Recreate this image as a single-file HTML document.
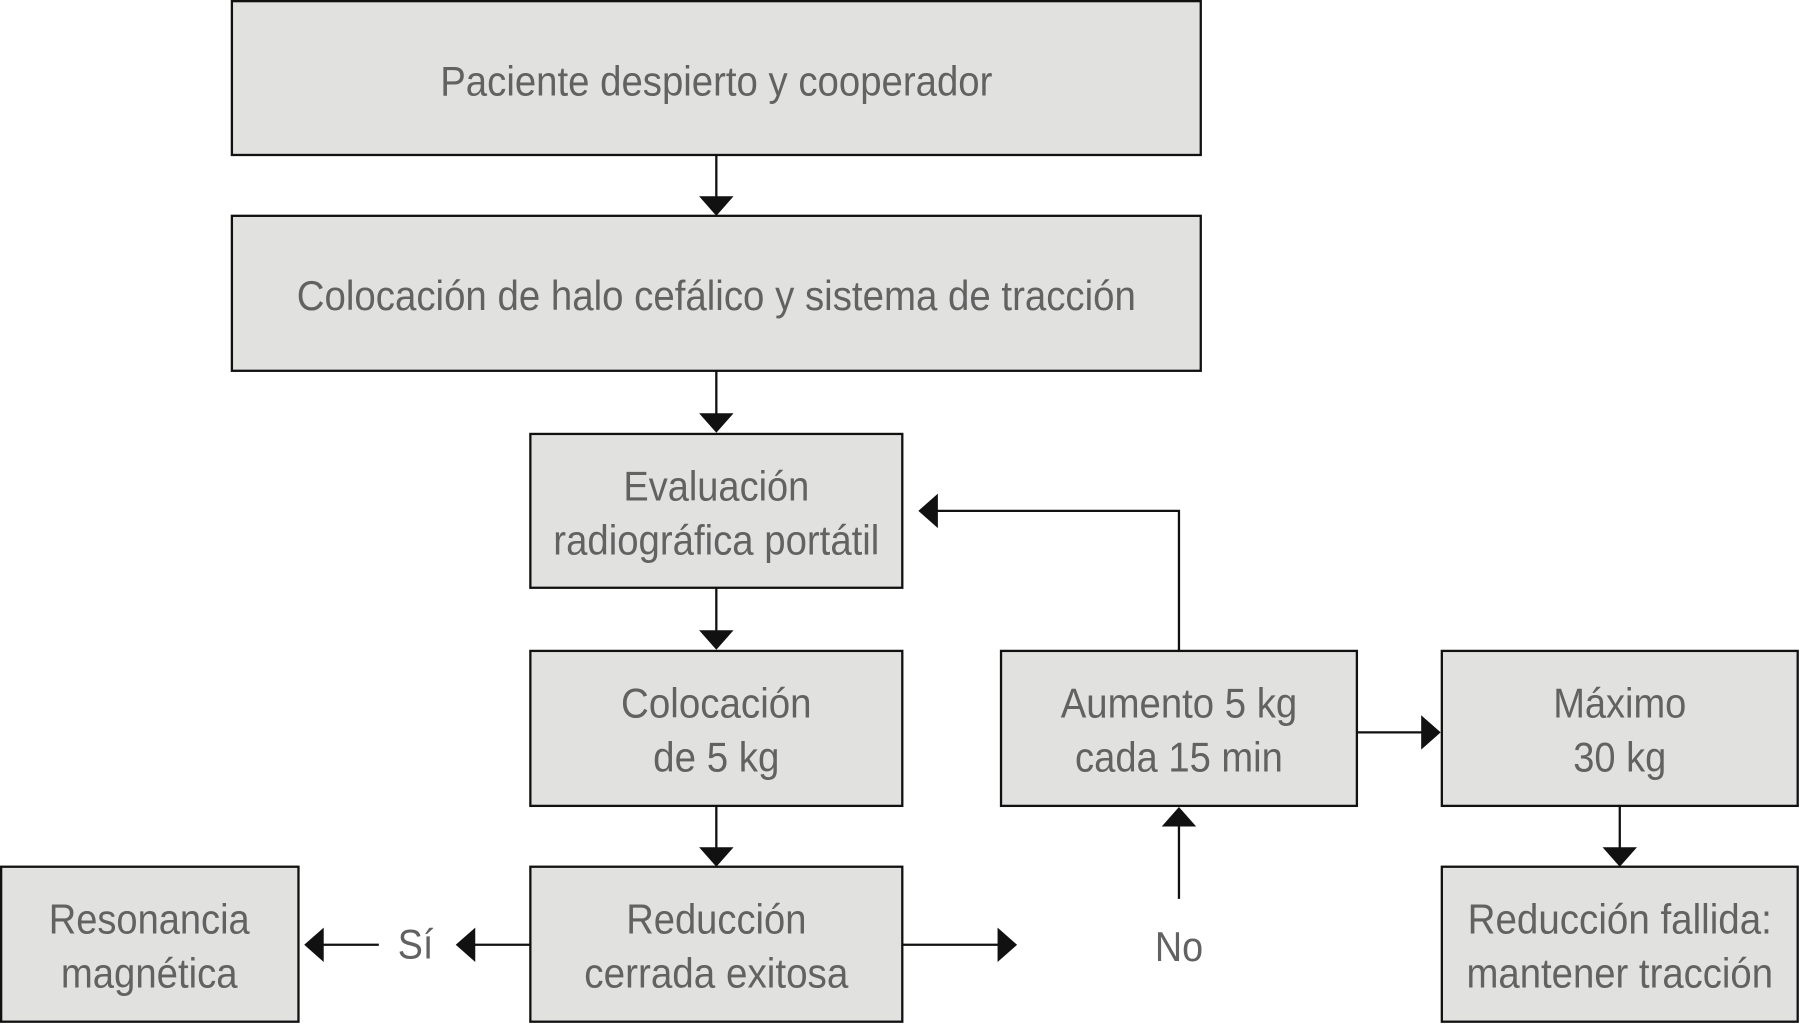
<!DOCTYPE html>
<html><head><meta charset="utf-8"><style>
html,body{margin:0;padding:0;background:#fff;}
svg{display:block;}
text{font-family:"Liberation Sans",sans-serif;font-size:36px;fill:#626262;text-anchor:middle;}
rect{fill:#e1e2e0;stroke:#111;stroke-width:2;}
line,polyline{stroke:#111;stroke-width:2;fill:none;}
polygon{fill:#111;}
</style></head><body>
<svg width="1800" height="1024" viewBox="0 0 1568 892" preserveAspectRatio="none">
<rect x="202" y="1" width="844" height="134"/>
<rect x="202" y="188" width="844" height="135"/>
<rect x="462" y="378" width="324" height="134"/>
<rect x="462" y="567" width="324" height="135"/>
<rect x="872" y="567" width="310" height="135"/>
<rect x="1256" y="567" width="310" height="135"/>
<rect x="1" y="755" width="259" height="135"/>
<rect x="462" y="755" width="324" height="135"/>
<rect x="1256" y="755" width="310" height="135"/>

<text x="624" y="83" textLength="481" lengthAdjust="spacingAndGlyphs">Paciente despierto y cooperador</text>
<text x="624" y="270" textLength="731" lengthAdjust="spacingAndGlyphs">Colocación de halo cefálico y sistema de tracción</text>
<text x="624" y="436" textLength="162" lengthAdjust="spacingAndGlyphs">Evaluación</text>
<text x="624" y="483" textLength="284" lengthAdjust="spacingAndGlyphs">radiográfica portátil</text>
<text x="624" y="625" textLength="166" lengthAdjust="spacingAndGlyphs">Colocación</text>
<text x="624" y="672" textLength="110" lengthAdjust="spacingAndGlyphs">de 5 kg</text>
<text x="1027" y="625" textLength="206" lengthAdjust="spacingAndGlyphs">Aumento 5 kg</text>
<text x="1027" y="672" textLength="181" lengthAdjust="spacingAndGlyphs">cada 15 min</text>
<text x="1411" y="625" textLength="116" lengthAdjust="spacingAndGlyphs">Máximo</text>
<text x="1411" y="672" textLength="81" lengthAdjust="spacingAndGlyphs">30 kg</text>
<text x="130" y="813" textLength="175" lengthAdjust="spacingAndGlyphs">Resonancia</text>
<text x="130" y="860" textLength="154" lengthAdjust="spacingAndGlyphs">magnética</text>
<text x="624" y="813" textLength="157" lengthAdjust="spacingAndGlyphs">Reducción</text>
<text x="624" y="860" textLength="230" lengthAdjust="spacingAndGlyphs">cerrada exitosa</text>
<text x="1411" y="813" textLength="265" lengthAdjust="spacingAndGlyphs">Reducción fallida:</text>
<text x="1411" y="860" textLength="267" lengthAdjust="spacingAndGlyphs">mantener tracción</text>
<text x="362" y="835" textLength="31" lengthAdjust="spacingAndGlyphs">Sí</text>
<text x="1027" y="837" textLength="42" lengthAdjust="spacingAndGlyphs">No</text>

<line x1="624" y1="135" x2="624" y2="172"/><polygon points="609,171 639,171 624,188"/>
<line x1="624" y1="323" x2="624" y2="361"/><polygon points="609,360 639,360 624,377"/>
<line x1="624" y1="512" x2="624" y2="550"/><polygon points="609,549 639,549 624,566"/>
<line x1="624" y1="702" x2="624" y2="739"/><polygon points="609,738 639,738 624,755"/>
<line x1="1411" y1="702" x2="1411" y2="739"/><polygon points="1396,738 1426,738 1411,755"/>
<polyline points="1027,567 1027,445 816,445"/><polygon points="817,430 817,460 800,445"/>
<line x1="1182" y1="638" x2="1239" y2="638"/><polygon points="1238,623 1238,653 1255,638"/>
<line x1="1027" y1="783" x2="1027" y2="719"/><polygon points="1012,720 1042,720 1027,703"/>
<line x1="786" y1="823" x2="870" y2="823"/><polygon points="869,808 869,838 886,823"/>
<line x1="462" y1="823" x2="413" y2="823"/><polygon points="414,808 414,838 397,823"/>
<line x1="330" y1="823" x2="281" y2="823"/><polygon points="282,808 282,838 265,823"/>
</svg>
</body></html>
